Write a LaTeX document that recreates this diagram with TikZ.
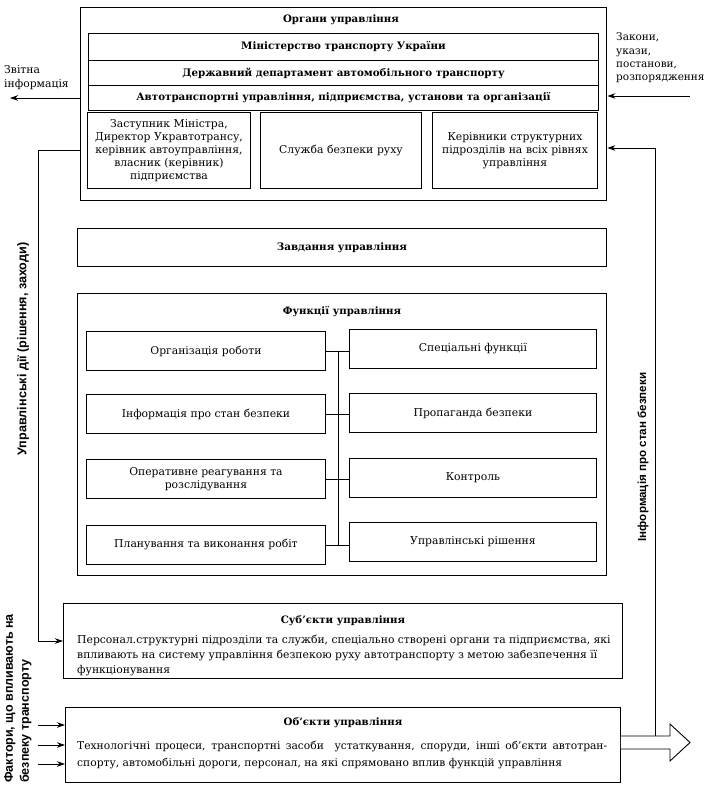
\documentclass[tikz,border=0pt]{standalone}
\usepackage{fontspec}
\setmainfont{DejaVu Serif}
\newfontfamily\lblfont{Liberation Sans}
\usetikzlibrary{arrows.meta,calc}
\begin{document}
\begin{tikzpicture}[x=1pt,y=-1pt,
  outerbox/.style={draw,line width=1.4pt,inner sep=0pt,anchor=north west},
  box/.style={draw,line width=0.9pt,inner sep=1pt,anchor=north west,align=center,font=\fontsize{10.8}{13}\selectfont},
  bbox/.style={box,font=\fontsize{10.3}{12}\selectfont\bfseries},
  ttl/.style={font=\fontsize{10.2}{12}\selectfont\bfseries,inner sep=0pt},
  lbl/.style={font=\fontsize{12.5}{16}\selectfont\lblfont\bfseries,inner sep=0pt,rotate=90},
  txt/.style={font=\fontsize{10.8}{14}\selectfont,inner sep=0pt},
  arr/.style={line width=0.9pt,-{Stealth[length=8pt,width=5.5pt]}},
  ln/.style={line width=0.9pt}]
\useasboundingbox (0,0) rectangle (715,791);
% Organs
\node[outerbox,minimum width=526pt,minimum height=193pt] (org) at (80,7) {};
\node[ttl] (orgt) at (341,20) {Органи управління};
\node[bbox,minimum width=510pt,minimum height=27pt] (min) at (88,33) {Міністерство транспорту України};
\node[bbox,minimum width=510pt,minimum height=25pt] (dep) at (88,60) {Державний департамент автомобільного транспорту};
\node[bbox,minimum width=510pt,minimum height=25pt] (aut) at (88,85) {Автотранспортні управління, підприємства, установи та організації};
\node[box,minimum width=163pt,minimum height=76pt,text width=160pt] (b1) at (87,112) {Заступник Міністра,\\Директор Укравтотрансу,\\керівник автоуправління,\\власник (керівник)\\підприємства};
\node[box,minimum width=161pt,minimum height=76pt,text width=158pt] (b2) at (260,112) {Служба безпеки руху};
\node[box,minimum width=165pt,minimum height=76pt,text width=162pt] (b3) at (432,112) {Керівники структурних\\підрозділів на всіх рівнях\\управління};
% side texts
\node[txt,anchor=north west,align=left] (zvt) at (4,65) {Звітна\\інформація};
\coordinate (zva) at (10,98);
\draw[arr] (org.west |- zva) -- (zva);
\node[txt,anchor=north west,align=left,font=\fontsize{10.5}{13.3}\selectfont] (zak) at (616,33) {Закони,\\укази,\\постанови,\\розпорядження};
\coordinate (zka) at (690,96);
\draw[arr] (zka) -- (org.east |- zka);
% Tasks
\node[bbox,minimum width=529pt,minimum height=38pt] (zav) at (77,228) {Завдання управління};
% Functions
\node[outerbox,line width=1.2pt,minimum width=529pt,minimum height=282pt] (fun) at (77,293) {};
\node[ttl] (funt) at (342,312) {Функції управління};
\node[box,minimum width=239pt,minimum height=39pt] (l1) at (86,331) {Організація роботи};
\node[box,minimum width=239pt,minimum height=39pt] (l2) at (86,394) {Інформація про стан безпеки};
\node[box,minimum width=239pt,minimum height=39pt] (l3) at (86,459) {Оперативне реагування та\\розслідування};
\node[box,minimum width=239pt,minimum height=39pt] (l4) at (86,525) {Планування та виконання робіт};
\node[box,minimum width=247pt,minimum height=39pt] (r1) at (349,329) {Спеціальні функції};
\node[box,minimum width=247pt,minimum height=39pt] (r2) at (349,393) {Пропаганда безпеки};
\node[box,minimum width=247pt,minimum height=39pt] (r3) at (349,458) {Контроль};
\node[box,minimum width=247pt,minimum height=39pt] (r4) at (349,522) {Управлінські рішення};
\coordinate (vx) at (338,0);
\foreach \i in {1,...,4}{\draw[ln] (l\i.east) -- (l\i.east -| r\i.west);}
\draw[ln] (l1.east -| vx) -- (l4.east -| vx);
% Subjects
\node[box,minimum width=559pt,minimum height=75pt] (sub) at (63,603) {};
\node[ttl] (subt) at (343,621) {Суб'єкти управління};
\node[txt,anchor=north west,align=left,font=\fontsize{10.8}{15}\selectfont] (subx) at (77,635) {Персонал.структурні підрозділи та служби, спеціально створені органи та підприємства, які\\впливають на систему управління безпекою руху автотранспорту з метою забезпечення її\\функціонування};
% Objects
\node[box,minimum width=555pt,minimum height=75pt] (obj) at (65,707) {};
\node[ttl] (objt) at (343,723) {Об'єкти управління};
\node[txt,anchor=north west,align=left,font=\fontsize{10.7}{17}\selectfont] (objx) at (77,741) {\makebox[530pt][s]{Технологічні процеси, транспортні засоби\ \ устаткування, споруди, інші об'єкти автотран-}\\спорту, автомобільні дороги, персонал, на які спрямовано вплив функцій управління};
% left loop
\coordinate (la) at (38,150);
\coordinate (lb) at (38,641);
\draw[arr] (org.west |- la) -- (la) -- (lb) -- (sub.west |- lb);
\node[lbl,font=\fontsize{12.6}{16}\selectfont\lblfont\bfseries] (udl) at (23,349) {Управлінські дії (рішення, заходи)};
% factors
\node[lbl,anchor=north west,align=left] (fak) at (4,783) {Фактори, що впливають на\\безпеку транспорту};
\foreach \yy in {725,745,764}{\coordinate (f\yy) at (38,\yy); \draw[arr] (f\yy) -- (obj.west |- f\yy);}
% big arrow
\coordinate (s1) at (obj.east |- 0,736);
\coordinate (s2) at (obj.east |- 0,749);
\coordinate (h0) at (670,736);
\draw[line width=0.9pt,fill=white] (s1) -- (h0) -- (670,724) -- (690,742.5) -- (670,761) -- (670,749) -- (s2);
% right feedback
\coordinate (ra) at (655,148);
\coordinate (rb) at (655,736);
\draw[arr] (rb) -- (ra) -- (org.east |- ra);
\node[lbl,font=\fontsize{11.6}{14}\selectfont\lblfont\bfseries] (inf) at (643,457) {Інформація про стан безпеки};
\end{tikzpicture}
\end{document}
